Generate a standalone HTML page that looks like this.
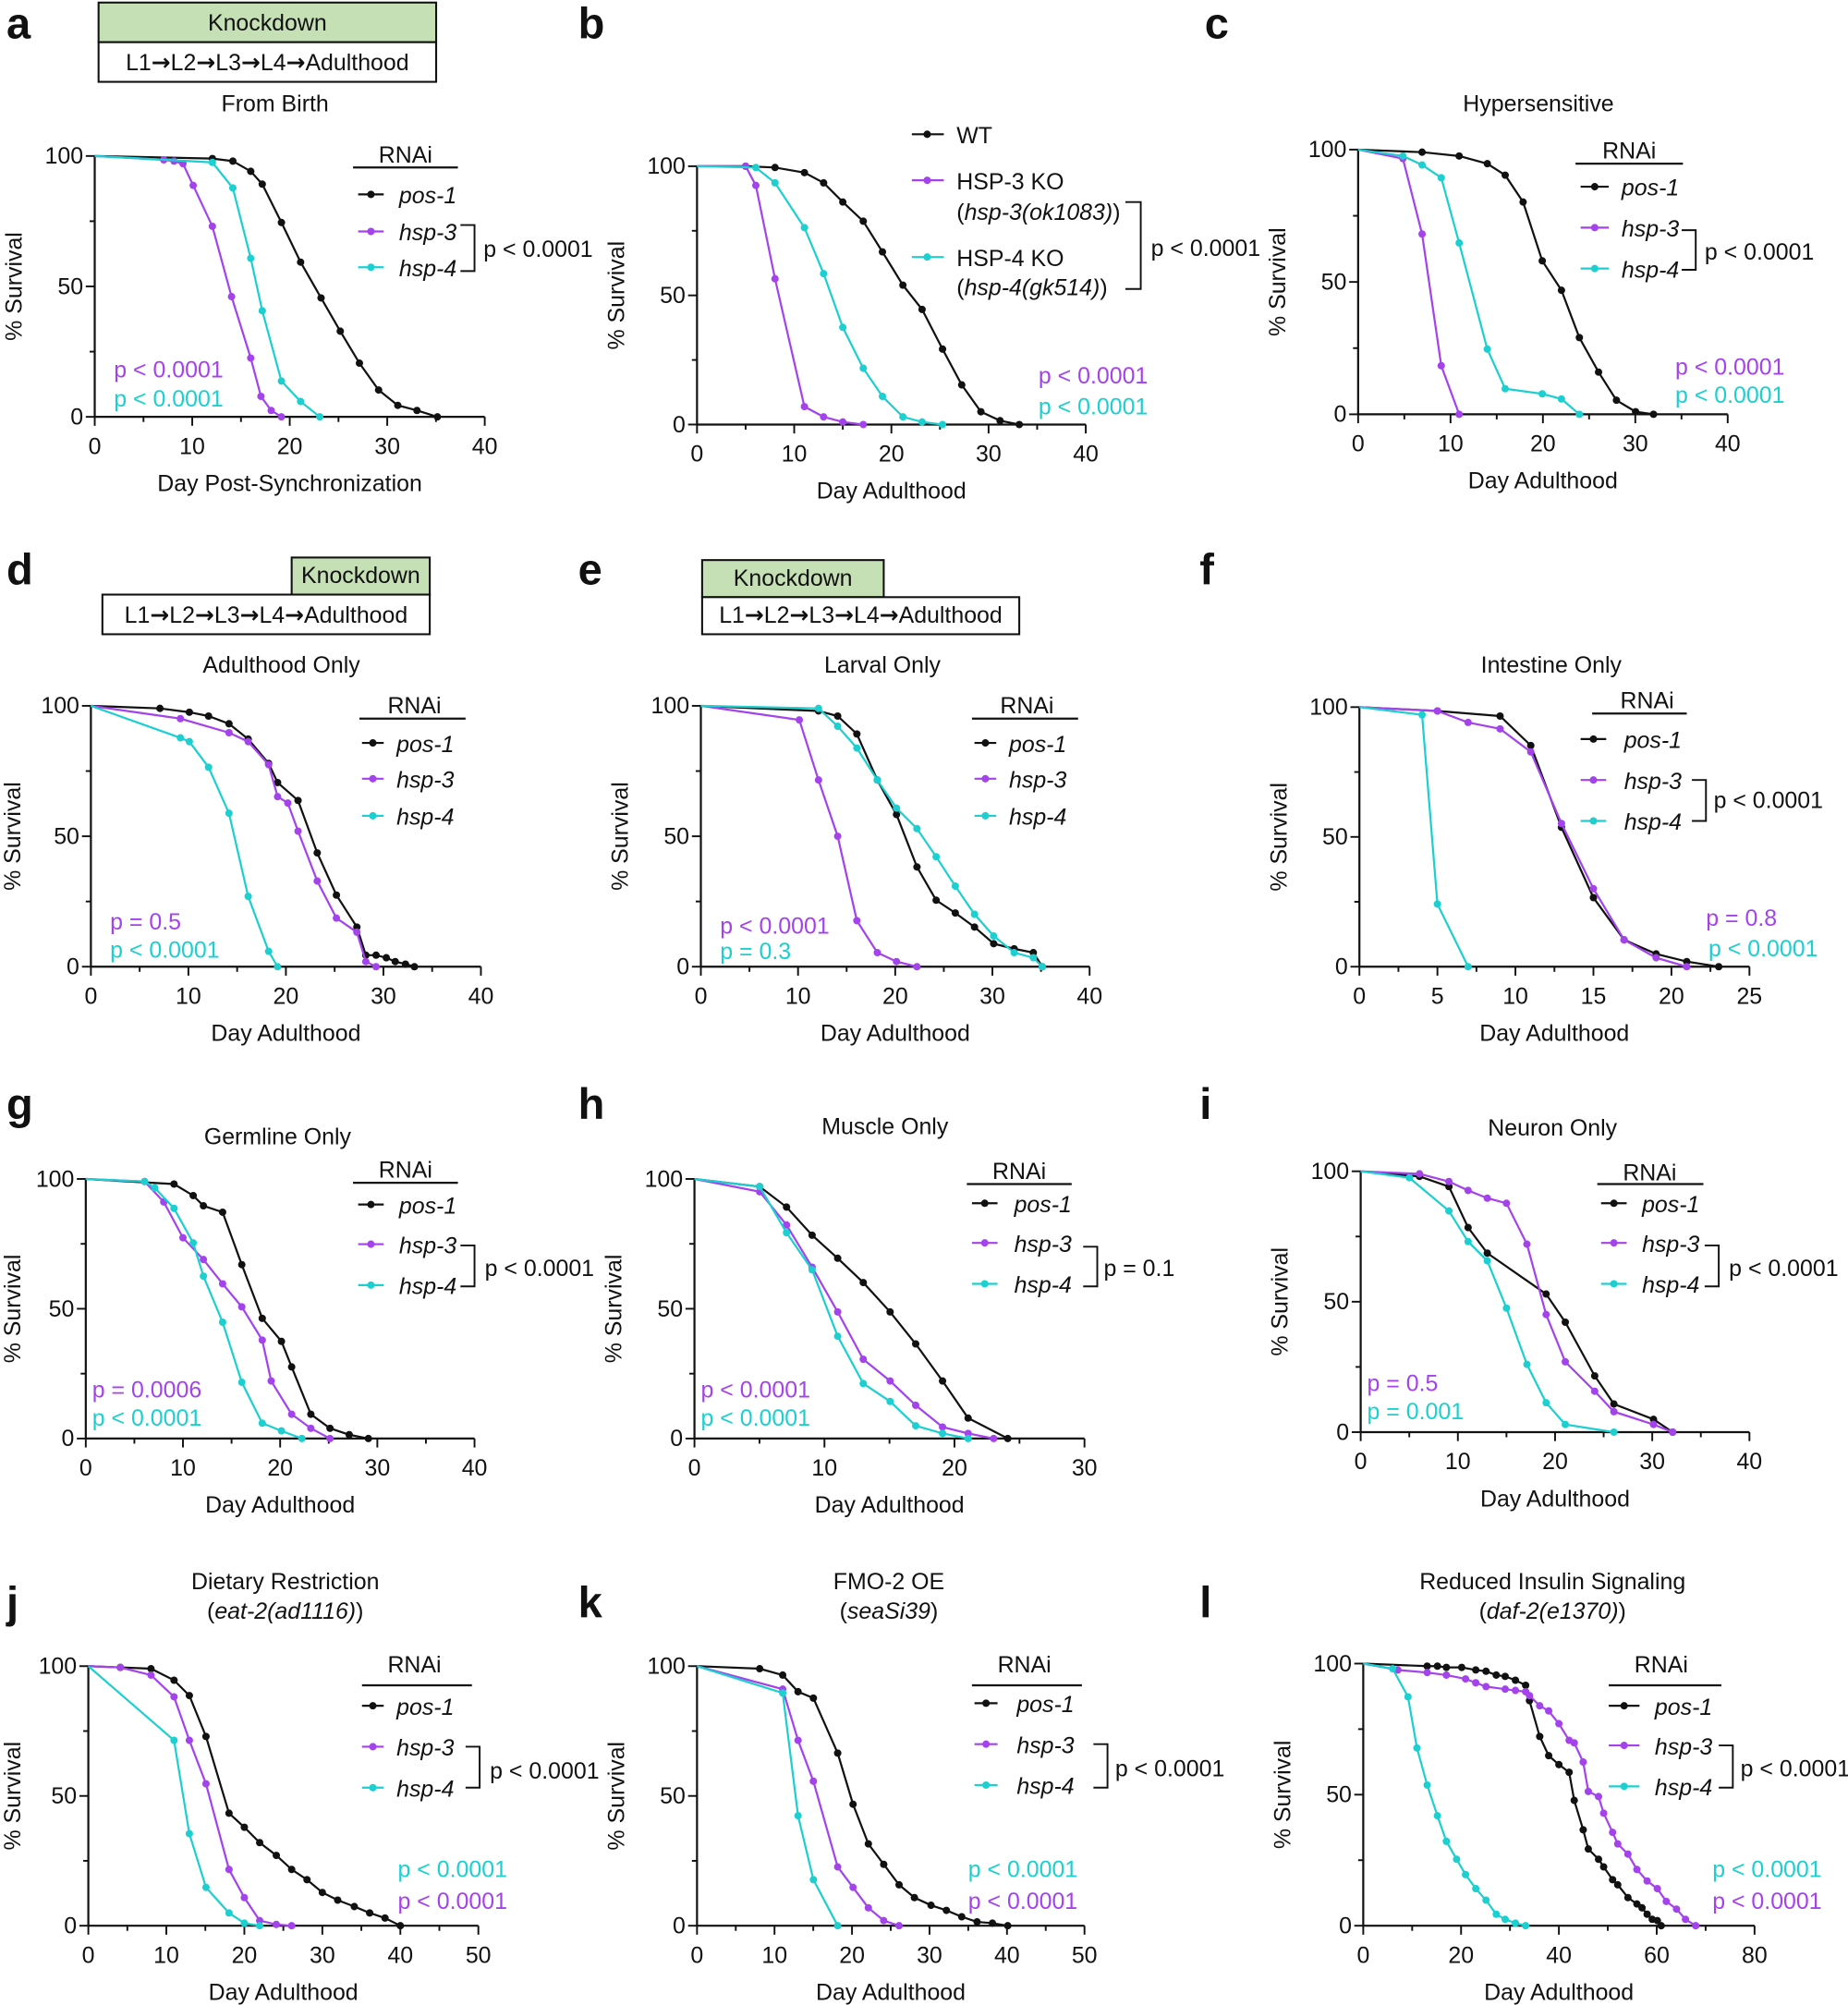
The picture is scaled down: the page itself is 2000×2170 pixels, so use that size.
<!DOCTYPE html>
<html><head><meta charset="utf-8"><style>
html,body{margin:0;padding:0;background:#fff}
svg{display:block}
text{font-family:"Liberation Sans",sans-serif;fill:#111}
</style></head><body>
<svg id="s" xmlns="http://www.w3.org/2000/svg" width="2000" height="2170" viewBox="0 0 1445 1568"></svg>
<script>
const K='#111',P='#a442ec',C='#1ccfd0';
let h='';
function t(x,y,s,o){o=o||{};h+=`<text x="${x}" y="${y}" font-size="${o.fs||18}" text-anchor="${o.a||'start'}"${o.i?' font-style="italic"':''}${o.b?' font-weight="bold"':''}${o.c?` style="fill:${o.c}"`:''}${o.r?` transform="rotate(-90 ${x} ${y})"`:''}>${s}</text>`;}
function L(pts,col){h+=`<polyline points="${pts.map(p=>p.join(',')).join(' ')}" fill="none" stroke="${col}" stroke-width="1.6"/>`;pts.slice(1).forEach(p=>h+=`<circle cx="${p[0]}" cy="${p[1]}" r="2.9" fill="${col}"/>`);}
function ln(x1,y1,x2,y2,w,c){h+=`<line x1="${x1}" y1="${y1}" x2="${x2}" y2="${y2}" stroke="${c||K}" stroke-width="${w||1.5}"/>`;}
function ax(x0,x1,xmax,step,y0,y1,xlabel){
 ln(x0,y0,x1,y0,1.6);ln(x0,y0,x0,y1,1.6);
 const n=xmax/step;
 for(let i=0;i<=n*2;i++){const px=x0+(x1-x0)*i/(2*n);ln(px,y0,px,y0+(i%2?4:7),1.4);if(i%2==0)t(px,y0+29,String(i/2*step),{a:'middle'});}
 for(let i=0;i<=4;i++){const py=y0+(y1-y0)*i/4;ln(x0,py,x0-(i%2?4:7),py,1.4);if(i%2==0)t(x0-9,py+6,String(i*25),{a:'end'});}
 t((x0+x1)/2,y0+58,xlabel,{a:'middle'});
 t(Math.max(x0-57,16),(y0+y1)/2,'% Survival',{a:'middle',r:1});
}
function leg(rx,ry,ulx1,ulx2,uly,lx1,lx2,tx,ys){
 if(rx!==null){t(rx,ry,'RNAi',{a:'middle'});ln(ulx1,uly,ulx2,uly,1.6);}
 const names=['pos-1','hsp-3','hsp-4'],cols=[K,P,C];
 ys.forEach((y,i)=>{ln(lx1,y,lx2,y,1.6,cols[i]);h+=`<circle cx="${(lx1+lx2)/2}" cy="${y}" r="2.9" fill="${cols[i]}"/>`;t(tx,y+7,names[i],{i:1});});
}
function br(x1,x2,ya,yb,px,py,s){h+=`<polyline points="${x1},${ya} ${x2},${ya} ${x2},${yb} ${x1},${yb}" fill="none" stroke="${K}" stroke-width="1.4"/>`;t(px,py,s);}
function letter(x,y,s){t(x,y,s,{fs:34,b:1});}
const AR='<tspan font-family="DejaVu Sans" font-weight="bold">→</tspan>';
function kd(gx1,gx2,gy1,gy2,wx1,wx2,wy2){
 h+=`<rect x="${gx1}" y="${gy1}" width="${gx2-gx1}" height="${gy2-gy1}" fill="#c5e0b4" stroke="#111" stroke-width="1.5"/>`;
 t((gx1+gx2)/2,gy2-9,'Knockdown',{a:'middle'});
 h+=`<rect x="${wx1}" y="${gy2}" width="${wx2-wx1}" height="${wy2-gy2}" fill="#fff" stroke="#111" stroke-width="1.5"/>`;
 t((wx1+wx2)/2,wy2-9,`L1${AR}L2${AR}L3${AR}L4${AR}Adulthood`,{a:'middle'});
}
// a
letter(5,30,'a');kd(77,341,2,33,77,341,64);t(215,87,'From Birth',{a:'middle'});
ax(74,379,40,10,326,122,'Day Post-Synchronization');
L([[74,122],[166,124],[182,126],[196,134],[205,144],[220,174],[235,205],[251,233],[266,259],[281,284],[296,305],[311,317],[326,321],[342,326]],K);
L([[74,122],[128,125],[136,126],[143,128],[151,145],[166,177],[181,232],[196,280],[204,310],[212,321],[220,326]],P);
L([[74,122],[166,127],[182,147],[196,202],[205,243],[220,298],[235,314],[250,326]],C);
leg(317,127,276,358,131,280,300,312,[152,181,209]);br(360,371,176,212,378,201,'p &lt; 0.0001');
t(89,295,'p &lt; 0.0001',{c:P});t(89,318,'p &lt; 0.0001',{c:C});
// b
letter(452,30,'b');
ax(545,849,40,10,332,130,'Day Adulthood');
L([[545,130],[583,130],[606,131],[629,135],[644,143],[659,158],[675,173],[690,197],[706,223],[721,242],[737,273],[752,301],[767,322],[782,329],[797,332]],K);
L([[545,130],[583,130],[591,145],[606,218],[629,318],[644,326],[659,330],[675,332]],P);
L([[545,130],[591,131],[606,143],[629,178],[644,214],[659,256],[675,288],[690,310],[706,326],[721,330],[737,332]],C);
[[105,K],[141,P],[201,C]].forEach(([y,c])=>{ln(713,y,738,y,1.6,c);h+=`<circle cx="725" cy="${y}" r="2.9" fill="${c}"/>`;});
t(748,112,'WT');t(748,148,'HSP-3 KO');t(748,172,'(<tspan font-style="italic">hsp-3(ok1083)</tspan>)');
t(748,208,'HSP-4 KO');t(748,231,'(<tspan font-style="italic">hsp-4(gk514)</tspan>)');
br(880,892,158,226,900,200,'p &lt; 0.0001');
t(812,300,'p &lt; 0.0001',{c:P});t(812,324,'p &lt; 0.0001',{c:C});
// c
letter(942,30,'c');t(1203,87,'Hypersensitive',{a:'middle'});
ax(1062,1351,40,10,324,117,'Day Adulthood');
L([[1062,117],[1112,119],[1141,122],[1163,128],[1177,137],[1191,158],[1206,204],[1221,227],[1235,264],[1250,291],[1264,313],[1279,322],[1293,324]],K);
L([[1062,117],[1097,124],[1112,183],[1127,286],[1141,324]],P);
L([[1062,117],[1097,122],[1112,129],[1127,139],[1141,190],[1163,273],[1177,304],[1206,308],[1221,312],[1235,324]],C);
leg(1274,124,1232,1316,128,1236,1258,1268,[146,178,210]);br(1315,1326,180,211,1333,203,'p &lt; 0.0001');
t(1310,293,'p &lt; 0.0001',{c:P});t(1310,315,'p &lt; 0.0001',{c:C});
// d
letter(5,457,'d');kd(228,336,436,465,80,336,496);t(220,526,'Adulthood Only',{a:'middle'});
ax(71,376,40,10,756,552,'Day Adulthood');
L([[71,552],[125,554],[148,557],[163,560],[179,566],[194,578],[210,597],[217,612],[233,626],[248,667],[263,700],[279,725],[286,747],[294,747],[302,749],[309,752],[317,754],[324,756]],K);
L([[71,552],[141,562],[179,573],[194,580],[210,598],[217,623],[225,628],[233,650],[248,689],[263,718],[279,729],[286,752],[294,756]],P);
L([[71,552],[141,577],[148,580],[163,600],[179,636],[194,701],[210,744],[217,756]],C);
leg(324,558,281,364,562,283,300,310,[581,609,638]);
t(86,727,'p = 0.5',{c:P});t(86,749,'p &lt; 0.0001',{c:C});
// e
letter(452,457,'e');kd(549,691,438,467,549,797,496);t(690,526,'Larval Only',{a:'middle'});
ax(548,852,40,10,756,552,'Day Adulthood');
L([[548,552],[640,556],[655,560],[670,574],[686,610],[701,637],[717,678],[732,704],[747,714],[762,725],[777,738],[793,742],[808,745],[815,756]],K);
L([[548,552],[625,563],[640,610],[655,654],[670,720],[686,745],[701,752],[717,756]],P);
L([[548,552],[640,554],[655,568],[670,585],[686,610],[701,632],[717,648],[732,670],[747,693],[762,715],[777,732],[793,745],[808,749],[815,756]],C);
leg(803,558,760,843,562,762,779,789,[581,609,638]);
t(563,730,'p &lt; 0.0001',{c:P});t(563,750,'p = 0.3',{c:C});
// f
letter(938,457,'f');t(1213,526,'Intestine Only',{a:'middle'});
ax(1063,1368,25,5,756,553,'Day Adulthood');
L([[1063,553],[1124,556],[1173,560],[1197,583],[1221,647],[1246,702],[1270,735],[1295,746],[1319,752],[1344,756]],K);
L([[1063,553],[1124,556],[1148,565],[1173,570],[1197,588],[1221,644],[1246,695],[1270,735],[1295,749],[1319,756]],P);
L([[1063,553],[1112,559],[1124,707],[1148,756]],C);
leg(1288,554,1245,1319,558,1236,1256,1270,[578,610,642]);br(1323,1334,610,642,1340,632,'p &lt; 0.0001');
t(1334,724,'p = 0.8',{c:P});t(1336,748,'p &lt; 0.0001',{c:C});
// g
letter(5,875,'g');t(217,895,'Germline Only',{a:'middle'});
ax(67,371,40,10,1125,922,'Day Adulthood');
L([[67,922],[136,926],[151,935],[159,943],[174,948],[189,989],[205,1031],[220,1049],[228,1069],[243,1106],[258,1117],[273,1122],[288,1125]],K);
L([[67,922],[113,924],[128,940],[143,968],[159,985],[174,1004],[189,1022],[205,1048],[212,1080],[228,1106],[243,1117],[258,1125]],P);
L([[67,922],[113,924],[121,929],[136,945],[151,972],[159,998],[174,1034],[189,1081],[205,1113],[220,1119],[236,1125]],C);
leg(317,921,276,358,925,280,300,312,[942,973,1005]);br(360,371,974,1006,379,998,'p &lt; 0.0001');
t(72,1093,'p = 0.0006',{c:P});t(72,1115,'p &lt; 0.0001',{c:C});
// h
letter(452,875,'h');t(692,887,'Muscle Only',{a:'middle'});
ax(543,848,30,10,1125,922,'Day Adulthood');
L([[543,922],[594,928],[615,944],[635,966],[655,984],[675,1003],[696,1026],[716,1051],[737,1080],[757,1109],[788,1125]],K);
L([[543,922],[594,932],[615,958],[635,991],[655,1026],[675,1063],[696,1080],[716,1099],[737,1116],[757,1121],[777,1125]],P);
L([[543,922],[594,928],[615,964],[635,993],[655,1045],[675,1082],[696,1096],[716,1115],[737,1121],[757,1125]],C);
leg(797,922,756,838,926,760,780,793,[941,972,1004]);br(847,858,975,1006,863,998,'p = 0.1');
t(548,1093,'p &lt; 0.0001',{c:P});t(548,1115,'p &lt; 0.0001',{c:C});
// i
letter(938,875,'i');t(1214,888,'Neuron Only',{a:'middle'});
ax(1064,1368,40,10,1120,916,'Day Adulthood');
L([[1064,916],[1110,920],[1133,928],[1148,960],[1163,980],[1209,1012],[1224,1034],[1247,1076],[1262,1098],[1293,1110],[1308,1120]],K);
L([[1064,916],[1110,918],[1133,924],[1148,931],[1163,937],[1178,941],[1194,973],[1209,1028],[1224,1065],[1247,1088],[1262,1104],[1293,1114],[1308,1120]],P);
L([[1064,916],[1102,921],[1133,947],[1148,971],[1163,986],[1178,1023],[1194,1067],[1209,1097],[1224,1114],[1262,1120]],C);
leg(1290,923,1249,1332,926,1252,1272,1284,[941,972,1004]);br(1333,1344,974,1006,1352,998,'p &lt; 0.0001');
t(1069,1088,'p = 0.5',{c:P});t(1069,1110,'p = 0.001',{c:C});
// j
letter(5,1265,'j');t(223,1243,'Dietary Restriction',{a:'middle'});t(223,1266,'(<tspan font-style="italic">eat-2(ad1116)</tspan>)',{a:'middle'});
ax(69,374,50,10,1506,1303,'Day Adulthood');
L([[69,1303],[94,1304],[118,1305],[136,1314],[148,1326],[161,1358],[179,1418],[191,1429],[203,1441],[216,1451],[228,1462],[240,1470],[252,1480],[264,1486],[277,1491],[289,1496],[301,1500],[313,1506]],K);
L([[69,1303],[94,1304],[118,1310],[136,1327],[148,1361],[161,1395],[179,1462],[191,1484],[203,1502],[216,1505],[228,1506]],P);
L([[69,1303],[136,1361],[148,1434],[161,1476],[179,1496],[191,1504],[203,1506]],C);
leg(324,1308,283,369,1318,283,300,310,[1334,1366,1398]);br(364,375,1366,1398,383,1391,'p &lt; 0.0001');
t(311,1468,'p &lt; 0.0001',{c:C});t(311,1493,'p &lt; 0.0001',{c:P});
// k
letter(452,1265,'k');t(695,1243,'FMO-2 OE',{a:'middle'});t(695,1266,'(<tspan font-style="italic">seaSi39</tspan>)',{a:'middle'});
ax(545,848,50,10,1506,1303,'Day Adulthood');
L([[545,1303],[594,1305],[612,1310],[624,1323],[636,1328],[655,1371],[667,1411],[679,1442],[691,1458],[703,1474],[715,1484],[728,1490],[740,1494],[752,1499],[764,1503],[776,1504],[788,1506]],K);
L([[545,1303],[612,1321],[624,1361],[636,1393],[655,1460],[667,1476],[679,1492],[691,1502],[703,1506]],P);
L([[545,1303],[612,1324],[624,1420],[636,1470],[655,1506]],C);
leg(801,1308,760,846,1318,762,780,795,[1332,1364,1396]);br(855,866,1364,1398,872,1389,'p &lt; 0.0001');
t(757,1468,'p &lt; 0.0001',{c:C});t(757,1493,'p &lt; 0.0001',{c:P});
// l
letter(938,1265,'l');t(1214,1243,'Reduced Insulin Signaling',{a:'middle'});t(1214,1266,'(<tspan font-style="italic">daf-2(e1370)</tspan>)',{a:'middle'});
ax(1066,1372,80,20,1506,1301,'Day Adulthood');
L([[1066,1301],[1116,1303],[1124,1303],[1131,1304],[1143,1304],[1154,1306],[1162,1307],[1170,1310],[1177,1311],[1185,1314],[1193,1318],[1196,1330],[1204,1358],[1211,1373],[1219,1380],[1227,1386],[1231,1408],[1238,1431],[1242,1446],[1250,1454],[1254,1460],[1261,1470],[1265,1474],[1273,1484],[1280,1489],[1284,1492],[1288,1497],[1292,1501],[1296,1502],[1299,1506]],K);
L([[1066,1301],[1093,1306],[1116,1308],[1131,1310],[1146,1313],[1154,1316],[1162,1319],[1177,1321],[1185,1322],[1193,1323],[1196,1326],[1204,1334],[1211,1338],[1219,1348],[1227,1361],[1231,1363],[1238,1378],[1242,1401],[1250,1405],[1254,1418],[1261,1433],[1265,1442],[1273,1450],[1280,1462],[1288,1471],[1296,1477],[1303,1487],[1311,1493],[1318,1501],[1326,1506]],P);
L([[1066,1301],[1089,1305],[1101,1327],[1108,1367],[1116,1396],[1124,1420],[1131,1440],[1139,1454],[1146,1466],[1154,1477],[1162,1486],[1170,1497],[1177,1501],[1185,1504],[1193,1506]],C);
leg(1299,1308,1258,1346,1318,1258,1282,1294,[1334,1365,1397]);br(1344,1355,1365,1398,1361,1389,'p &lt; 0.0001');
t(1339,1468,'p &lt; 0.0001',{c:C});t(1339,1493,'p &lt; 0.0001',{c:P});
document.getElementById('s').innerHTML=h;
</script>
</body></html>
